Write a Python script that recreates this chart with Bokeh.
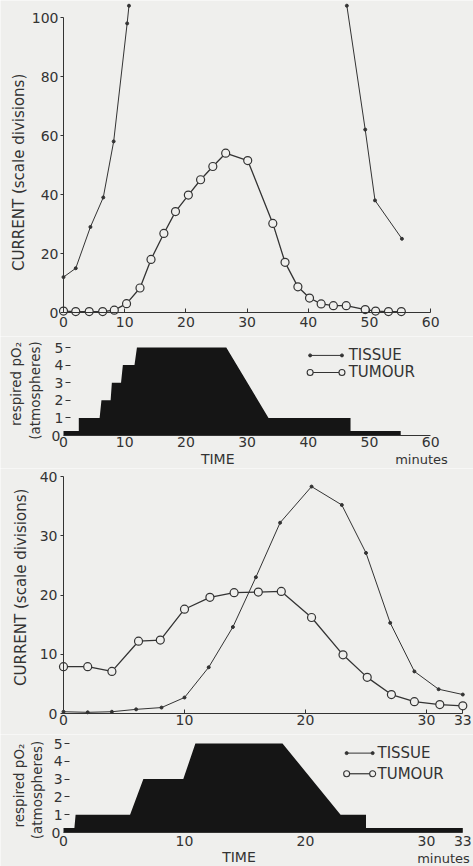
import math
from bokeh.plotting import figure
from bokeh.layouts import column
from bokeh.models import Range1d, FixedTicker, LinearAxis, Label
from bokeh.embed import file_html
from bokeh.resources import INLINE
from bokeh.core.properties import value

# ---------------- data: experiment A (0-60 minutes) ----------------
a_tissue_rise_min = [0, 2, 4.4, 6.5, 8.2, 10.4, 10.7]
a_tissue_rise_cur = [12, 15, 29, 39, 58, 98, 104]
a_tissue_fall_min = [46.3, 49.3, 50.9, 55.3]
a_tissue_fall_cur = [104, 62, 38, 25]
a_tumour_min = [0, 2, 4.2, 6.4, 8.3, 10.3, 12.5, 14.3, 16.4, 18.3, 20.4, 22.4, 24.4, 26.5,
                30.1, 34.2, 36.2, 38.3, 40.2, 42.1, 44.1, 46.2, 49.3, 51.0, 53.1, 55.2]
a_tumour_cur = [0.5, 0.3, 0.3, 0.3, 0.8, 3, 8.3, 18, 26.8, 34.2, 39.8, 45, 49.5, 54,
                51.5, 30.2, 17, 8.7, 4.9, 2.9, 2.3, 2.3, 1.0, 0.5, 0.3, 0.3]
a_o2_min = [0, 2.5, 2.5, 5.9, 6.2, 7.7, 7.9, 9.4, 9.7, 11.6, 12.0, 26.6, 33.5, 46.9, 46.9, 55.1]
a_o2_atm = [0.25, 0.25, 1, 1, 2, 2, 3, 3, 4, 4, 5, 5, 1, 1, 0.25, 0.25]

# ---------------- data: experiment B (0-33 minutes) ----------------
b_tissue_min = [0, 2, 4, 6, 8.1, 10, 12, 14, 15.9, 17.9, 20.5, 23, 25, 27, 29, 31, 33]
b_tissue_cur = [0.3, 0.2, 0.3, 0.7, 1.0, 2.7, 7.8, 14.6, 23, 32.2, 38.3, 35.2, 27.1, 15.3, 7.1, 4.1, 3.2]
b_tumour_min = [0, 2, 4, 6.2, 8, 10, 12.1, 14.1, 16.1, 18, 20.5, 23.1, 25.1, 27.1, 29, 31.1, 33]
b_tumour_cur = [7.9, 7.9, 7.1, 12.2, 12.4, 17.6, 19.6, 20.4, 20.5, 20.6, 16.2, 9.9, 6.1, 3.2, 2.0, 1.5, 1.3]
b_o2_min = [0, 0.9, 1.0, 5.5, 6.6, 9.9, 10.9, 18.1, 22.9, 25.0, 25.0, 33]
b_o2_atm = [0.25, 0.25, 1, 1, 3, 3, 5, 5, 1, 1, 0.25, 0.25]

# ---------------- tick labels ----------------
a_cur_ticks = [0, 20, 40, 60, 80, 100]
a_time_ticks = [0, 10, 20, 30, 40, 50, 60]
o2_ticks = [1, 2, 3, 4, 5]
b_cur_ticks = [0, 10, 20, 30, 40]
b_time_ticks = [0, 10, 20, 30, 33]

series_names = ["TISSUE", "TUMOUR"]
cur_title = "CURRENT (scale divisions)"
o2_title_1 = "respired pO\u2082"
o2_title_2 = "(atmospheres)"

# ---------------- style ----------------
BG = "#efefed"
INK = "#333333"
FILL = "#151515"
FONT = "DejaVu Sans"
TICK_SIZE = "14px"
W = 473
X0 = 63  # canvas x of time 0


def make_fig(px_x, px_y, H, base_from_bottom):
    xs = -X0 / px_x
    ys = -base_from_bottom / px_y
    p = figure(x_range=Range1d(xs, xs + W / px_x), y_range=Range1d(ys, ys + H / px_y),
               frame_width=W, frame_height=H, min_border=0,
               output_backend="svg", toolbar_location=None, title=None,
               background_fill_color=BG, border_fill_color=BG, outline_line_color=None)
    p.grid.visible = False
    return p


def style_axis(ax, ticks, tick_in, tick_out, standoff, bounds=None, line=True, loc=None):
    ax.ticker = FixedTicker(ticks=ticks)
    ax.minor_tick_line_color = None
    ax.major_tick_in = tick_in
    ax.major_tick_out = tick_out
    ax.major_tick_line_color = INK if (tick_in or tick_out) else None
    ax.major_tick_line_width = 1
    ax.axis_line_color = INK if line else None
    ax.axis_line_width = 1
    ax.major_label_standoff = standoff
    ax.major_label_text_font = FONT
    ax.major_label_text_font_size = TICK_SIZE
    ax.major_label_text_color = INK
    if bounds is not None:
        ax.bounds = bounds
    if loc is not None:
        ax.fixed_location = loc


def label(p, x, y, text, size, angle=0.0, align="center"):
    p.add_layout(Label(x=x, y=y, text=text, angle=angle, text_align=align,
                       text_baseline="middle", text_font=FONT, text_font_size=size,
                       text_color=INK))


def tissue(p, xs, ys):
    p.line(xs, ys, line_color=INK, line_width=1)
    p.scatter(xs, ys, size=3, marker="circle", color=INK)


def tumour(p, xs, ys):
    p.line(xs, ys, line_color=INK, line_width=1.3)
    p.scatter(xs, ys, size=8, marker="circle", fill_color=BG, line_color=INK, line_width=1.2)


def key(p, xa, xb, xt, y_tis, y_tum):
    p.line([xa, xb], [y_tis, y_tis], line_color=INK, line_width=1)
    p.scatter([xa, xb], [y_tis, y_tis], size=3, marker="circle", color=INK)
    p.line([xa, xb], [y_tum, y_tum], line_color=INK, line_width=1.2)
    p.scatter([xa, xb], [y_tum, y_tum], size=6, marker="circle", fill_color=BG,
              line_color=INK, line_width=1.1)
    p.text([xt, xt], [y_tis, y_tum], text=series_names, text_baseline="middle",
           text_align="left", text_font=value(FONT), text_font_size=value("15px"),
           text_color=INK)


def zero_axis(p, x_loc):
    ax = LinearAxis()
    p.add_layout(ax, "left")
    style_axis(ax, [0], 0, 0, 3, line=False, loc=x_loc)


# ---------------- panel 1: current, experiment A ----------------
f1 = make_fig(px_x=6.12, px_y=2.95, H=336, base_from_bottom=24)
tissue(f1, a_tissue_rise_min, a_tissue_rise_cur)
tissue(f1, a_tissue_fall_min, a_tissue_fall_cur)
tumour(f1, a_tumour_min, a_tumour_cur)
style_axis(f1.xaxis[0], a_time_ticks, 4, 0, 4, bounds=(0, 60), loc=0)
style_axis(f1.yaxis[0], a_cur_ticks, 0, 3, 2, bounds=(0, 100), loc=0)
label(f1, -7.27, 47.5, cur_title, "15px", angle=math.pi / 2)

# ---------------- panel 2: respired pO2, experiment A ----------------
f2 = make_fig(px_x=6.12, px_y=17.6, H=132, base_from_bottom=33)
f2.varea(x=a_o2_min, y1=0, y2=a_o2_atm, fill_color=FILL)
style_axis(f2.xaxis[0], a_time_ticks, 0, 0, 1, bounds=(0, 60), loc=0)
style_axis(f2.yaxis[0], o2_ticks, 0, 5, 2, line=False, loc=1.14)
zero_axis(f2, 0)
key(f2, 40.3, 45.5, 46.6, 4.55, 3.58)
label(f2, -7.84, 2.93, o2_title_1, "13.5px", angle=math.pi / 2)
label(f2, -4.58, 2.56, o2_title_2, "13.5px", angle=math.pi / 2)
label(f2, 25.2, -1.36, "TIME", "14px")
label(f2, 58.5, -1.36, "minutes", "13px")

# ---------------- panel 3: current, experiment B ----------------
f3 = make_fig(px_x=12.1, px_y=5.925, H=266, base_from_bottom=21)
tissue(f3, b_tissue_min, b_tissue_cur)
tumour(f3, b_tumour_min, b_tumour_cur)
style_axis(f3.xaxis[0], b_time_ticks, 4, 0, 1, bounds=(0, 33), loc=0)
style_axis(f3.yaxis[0], b_cur_ticks, 0, 3, 3, bounds=(0, 40), loc=0)
label(f3, -3.55, 21.3, cur_title, "15px", angle=math.pi / 2)

# ---------------- panel 4: respired pO2, experiment B ----------------
f4 = make_fig(px_x=12.1, px_y=17.8, H=132, base_from_bottom=34)
f4.varea(x=b_o2_min, y1=0, y2=b_o2_atm, fill_color=FILL)
style_axis(f4.xaxis[0], b_time_ticks, 0, 0, 3, bounds=(0, 33), loc=0)
style_axis(f4.yaxis[0], o2_ticks, 0, 5, 2, line=False, loc=0.5)
zero_axis(f4, 0)
key(f4, 23.4, 25.55, 25.95, 4.46, 3.3)
label(f4, -3.64, 2.64, o2_title_1, "13.5px", angle=math.pi / 2)
label(f4, -2.23, 2.39, o2_title_2, "13.5px", angle=math.pi / 2)
label(f4, 14.5, -1.4, "TIME", "14px")
label(f4, 31.4, -1.45, "minutes", "13px")

layout = column(f1, f2, f3, f4, spacing=0)
open("out.html", "w").write(file_html(layout, INLINE))
